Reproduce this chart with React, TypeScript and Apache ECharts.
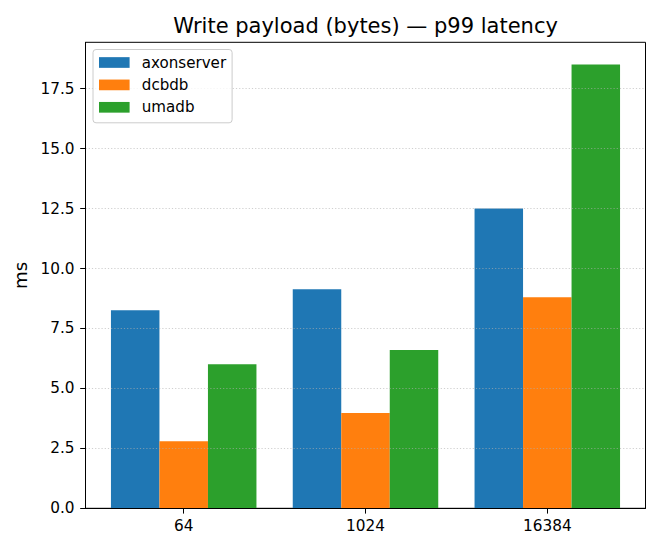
import React, { useEffect, useRef } from "react";
import * as echarts from "echarts";

const categories = ["64", "1024", "16384"];
const seriesNames = ["axonserver", "dcbdb", "umadb"];
const axonserver = [8.26, 9.14, 12.5];
const dcbdb = [2.8, 3.97, 8.8];
const umadb = [6.01, 6.6, 18.51];
const yTicks = [0, 2.5, 5, 7.5, 10, 12.5, 15, 17.5];
const yMax = 19.436;
const colors = ["#1f77b4", "#ff7f0e", "#2ca02c"];

const FONT = "DejaVu Sans";

export default function App() {
  const ref = useRef<HTMLDivElement>(null);
  useEffect(() => {
    if (!ref.current) return;
    const chart = echarts.init(ref.current, undefined, { renderer: "svg" });
    const values = [axonserver, dcbdb, umadb];
    chart.setOption({
      animation: false,
      backgroundColor: "#ffffff",
      textStyle: { fontFamily: FONT },
      graphic: [
        {
          type: "text",
          x: 365.5,
          y: 25.5,
          style: {
            text: "Write payload (bytes) — p99 latency",
            fontFamily: FONT,
            fontSize: 21,
            fill: "#000",
            align: "center",
            verticalAlign: "middle",
          },
        },
      ],
      legend: {
        orient: "vertical",
        left: 93,
        top: 49.5,
        z: 10,
        data: seriesNames,
        icon: "rect",
        itemWidth: 30.6,
        itemHeight: 10.7,
        itemGap: 7.4,
        padding: [5.5, 6, 8, 6],
        borderColor: "#cccccc",
        borderWidth: 1,
        borderRadius: 3,
        backgroundColor: "rgba(255,255,255,0.8)",
        textStyle: {
          fontFamily: FONT,
          fontSize: 15.1,
          color: "#000",
          lineHeight: 15,
          padding: [0, 0, 0, 7.2],
        },
      },
      grid: [
        {
          left: 85.5,
          right: 14.5,
          top: 42.3,
          bottom: 41.7,
          show: true,
          borderColor: "#000",
          borderWidth: 1,
          containLabel: false,
        },
        {
          left: 92.8,
          right: 21.8,
          top: 42.3,
          bottom: 41.7,
          containLabel: false,
        },
      ],
      xAxis: [
        {
          type: "value",
          gridIndex: 0,
          min: 0,
          max: 1,
          z: 6,
          axisLine: { show: true, lineStyle: { color: "#000", width: 1 } },
          axisTick: { show: false },
          axisLabel: { show: false },
          splitLine: { show: false },
        },
        {
          type: "category",
          gridIndex: 1,
          data: categories,
          axisLine: { show: false },
          axisTick: {
            show: true,
            alignWithLabel: true,
            length: 5.3,
            lineStyle: { color: "#000", width: 1 },
          },
          axisLabel: {
            fontFamily: FONT,
            fontSize: 15.3,
            color: "#000",
            margin: 10,
          },
          splitLine: { show: false },
        },
      ],
      yAxis: [
        {
          type: "value",
          gridIndex: 0,
          min: 0,
          max: yMax,
          z: 5,
          name: "ms",
          nameLocation: "middle",
          nameGap: 53,
          nameTextStyle: { fontFamily: FONT, fontSize: 18.3, color: "#000" },
          axisLine: { show: true, lineStyle: { color: "#000", width: 1 } },
          axisTick: {
            show: true,
            length: 5.3,
            customValues: yTicks,
            lineStyle: { color: "#000", width: 1 },
          },
          axisLabel: {
            customValues: yTicks,
            formatter: (v: number) => v.toFixed(1),
            fontFamily: FONT,
            fontSize: 15.3,
            color: "#000",
            margin: 11,
          },
          splitLine: {
            show: true,
            lineStyle: {
              color: "rgba(176,176,176,0.6)",
              type: [1.2, 2],
              width: 1.2,
            },
          },
        },
        { type: "value", gridIndex: 1, min: 0, max: yMax, show: false },
      ],
      series: seriesNames.map((name, i) => ({
        name,
        type: "bar",
        xAxisIndex: 1,
        yAxisIndex: 1,
        data: values[i],
        barWidth: 48.5,
        barGap: "0%",
        itemStyle: { color: colors[i] },
      })),
    });
    return () => chart.dispose();
  }, []);
  return (
    <div
      ref={ref}
      style={{ position: "fixed", left: 0, top: 0, width: 660, height: 550 }}
    />
  );
}
